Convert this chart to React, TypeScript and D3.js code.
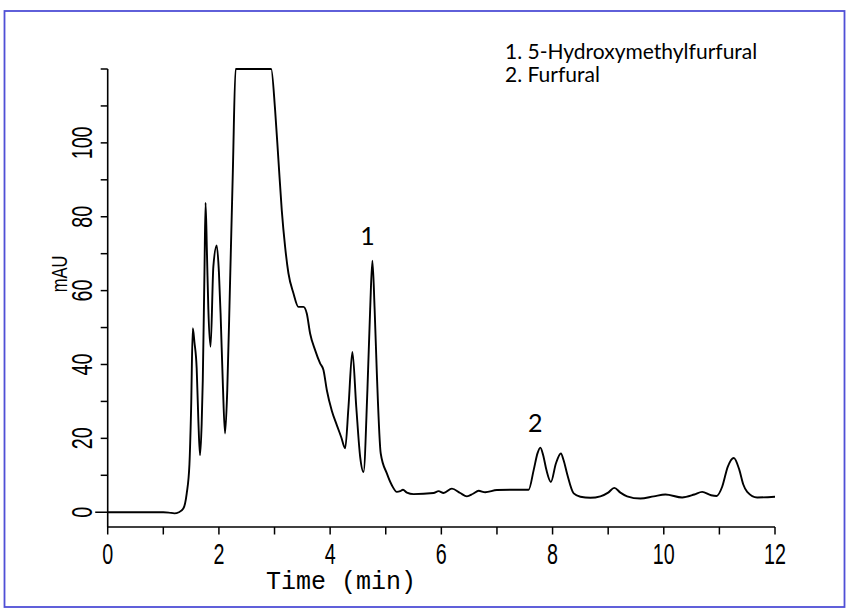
import * as d3 from 'd3'

const times = [
  0, 0.5, 1.0, 1.1, 1.2, 1.28, 1.36, 1.42, 1.47, 1.5, 1.53, 1.56, 1.6, 1.63, 1.66, 1.69, 1.71, 1.74, 1.76,
  1.785, 1.81, 1.85, 1.9, 1.96, 2.0, 2.03, 2.07, 2.11, 2.15, 2.2, 2.25, 2.3, 2.94, 3.01, 3.07, 3.13, 3.19,
  3.25, 3.34, 3.43, 3.52, 3.58, 3.64, 3.73, 3.82, 3.88, 3.94, 4.03, 4.12, 4.2, 4.27, 4.33, 4.4, 4.47, 4.54,
  4.6, 4.67, 4.72, 4.76, 4.8, 4.84, 4.91, 5.02, 5.11, 5.2, 5.26, 5.31, 5.38, 5.5, 5.86, 5.95, 6.04, 6.19,
  6.34, 6.46, 6.57, 6.67, 6.79, 7.0, 7.3, 7.57, 7.66, 7.73, 7.78, 7.83, 7.89, 7.97, 8.06, 8.15, 8.2, 8.26,
  8.38, 8.5, 8.68, 8.86, 9.0, 9.11, 9.22, 9.34, 9.58, 9.82, 10.03, 10.33, 10.55, 10.69, 10.85, 10.95,
  11.05, 11.15, 11.26, 11.36, 11.43, 11.5, 11.68, 12.0,
]

const absorbance = [
  0, 0, 0, -0.1, -0.3, 0, 1.0, 5, 13, 28, 49.8, 46, 39, 25, 15.4, 24, 35.8, 65, 83.8,
  70, 55, 44.8, 66.5, 72.2, 65, 53.8, 35, 21.3, 33, 62, 92, 120, 120, 109, 95.4, 81.8, 71.9,
  64.7, 59.3, 55.6, 55.6, 53.8, 48.4, 43.9, 40.3, 38.5, 33.1, 27.5, 23.6, 20.3, 17.3, 28.5, 43.4, 28.5, 15,
  10.9, 33, 55, 68.1, 55, 37.6, 15.9, 10.5, 7.3, 5.5, 5.7, 6.1, 5.3, 4.9, 5.2, 5.7, 5.2, 6.4,
  5.2, 4.3, 5.0, 5.8, 5.4, 6.0, 6.1, 6.1, 11.4, 16, 17.5, 15.5, 11.4, 8.2, 13.2, 15.9, 14, 10.5,
  5.1, 4.2, 3.9, 4.3, 5.3, 6.6, 5.3, 4.3, 3.7, 4.3, 4.8, 4.0, 4.8, 5.5, 4.6, 4.4,
  6.9, 12.3, 14.7, 11.4, 7.5, 5.5, 4.0, 4.2,
]

const xTicks = [0, 1, 2, 3, 4, 5, 6, 7, 8, 9, 10, 11, 12]
const xTickLabels = [0, 2, 4, 6, 8, 10, 12]
const yTicks = [0, 10, 20, 30, 40, 50, 60, 70, 80, 90, 100, 110, 120]
const yTickLabels = [0, 20, 40, 60, 80, 100]

const legendLines = ['1. 5-Hydroxymethylfurfural', '2. Furfural']
const peakLabels = [
  { label: '1', time: 4.76, value: 68.1 },
  { label: '2', time: 7.78, value: 17.5 },
]

export default function App() {
  const width = 849
  const height = 610
  const plot = { left: 107.7, right: 775, top: 69, bottom: 527 }

  const xScale = d3.scaleLinear().domain([0, 12]).range([plot.left, plot.right])
  const yScale = d3.scaleLinear().domain([-4, 120]).range([plot.bottom, plot.top])

  const points = times.map((t, i) => [t, absorbance[i]] as [number, number])
  const line = d3
    .line<[number, number]>()
    .x((d) => xScale(d[0]))
    .y((d) => yScale(d[1]))
    .curve(d3.curveMonotoneX)

  // narrow sans: Arial-metric font squeezed horizontally
  const tickFont = "'Liberation Sans', Arial, sans-serif"
  const squeeze = 0.68
  const noteFont = "Lato, 'Open Sans', sans-serif"

  return (
    <svg
      width={width}
      height={height}
      style={{ position: 'absolute', left: 0, top: 0, background: '#fff' }}
    >
      <rect x={4.5} y={11} width={840} height={596} fill="none" stroke="#4f4fd6" strokeWidth={1.8} />

      {/* axes */}
      <line x1={plot.left} x2={plot.left} y1={plot.top} y2={plot.bottom} stroke="#000" strokeWidth={1.6} />
      <line x1={plot.left} x2={plot.right} y1={plot.bottom} y2={plot.bottom} stroke="#000" strokeWidth={1.6} />

      {yTicks.map((tick) => (
        <line
          key={`yt-${tick}`}
          x1={plot.left - (tick === 0 ? 12.5 : 7)}
          x2={plot.left}
          y1={yScale(tick)}
          y2={yScale(tick)}
          stroke="#000"
          strokeWidth={1.5}
        />
      ))}
      {yTickLabels.map((tick) => (
        <text
          key={`yl-${tick}`}
          transform={`translate(${92}, ${yScale(tick)}) rotate(-90) scale(${squeeze}, 1)`}
          textAnchor="middle"
          fontFamily={tickFont}
          fontSize={29}
          fill="#000"
        >
          {tick}
        </text>
      ))}
      <text
        transform={`translate(${67}, ${274}) rotate(-90) scale(0.75, 1)`}
        textAnchor="middle"
        fontFamily={tickFont}
        fontSize={22}
        fill="#000"
      >
        mAU
      </text>

      {xTicks.map((tick) => (
        <line
          key={`xt-${tick}`}
          x1={xScale(tick)}
          x2={xScale(tick)}
          y1={plot.bottom}
          y2={plot.bottom + 7.5}
          stroke="#000"
          strokeWidth={1.5}
        />
      ))}
      {xTickLabels.map((tick) => (
        <text
          key={`xl-${tick}`}
          transform={`translate(${xScale(tick)}, 564) scale(${squeeze}, 1)`}
          textAnchor="middle"
          fontFamily={tickFont}
          fontSize={29}
          fill="#000"
        >
          {tick}
        </text>
      ))}
      <text
        x={341}
        y={589}
        textAnchor="middle"
        fontFamily="'Liberation Mono', 'DejaVu Sans Mono', monospace"
        fontSize={25}
        fill="#000"
      >
        Time (min)
      </text>

      <path d={line(points) ?? ''} fill="none" stroke="#000" strokeWidth={1.9} strokeLinejoin="round" />

      {peakLabels.map((p) => (
        <text
          key={p.label}
          x={xScale(p.time) - 5}
          y={yScale(p.value) - 16}
          textAnchor="middle"
          fontFamily={noteFont}
          fontSize={25}
          fill="#000"
        >
          {p.label}
        </text>
      ))}

      {legendLines.map((text, i) => (
        <text
          key={text}
          x={505}
          y={59 + i * 23}
          fontFamily={noteFont}
          fontSize={21}
          fill="#000"
        >
          {text}
        </text>
      ))}
    </svg>
  )
}
